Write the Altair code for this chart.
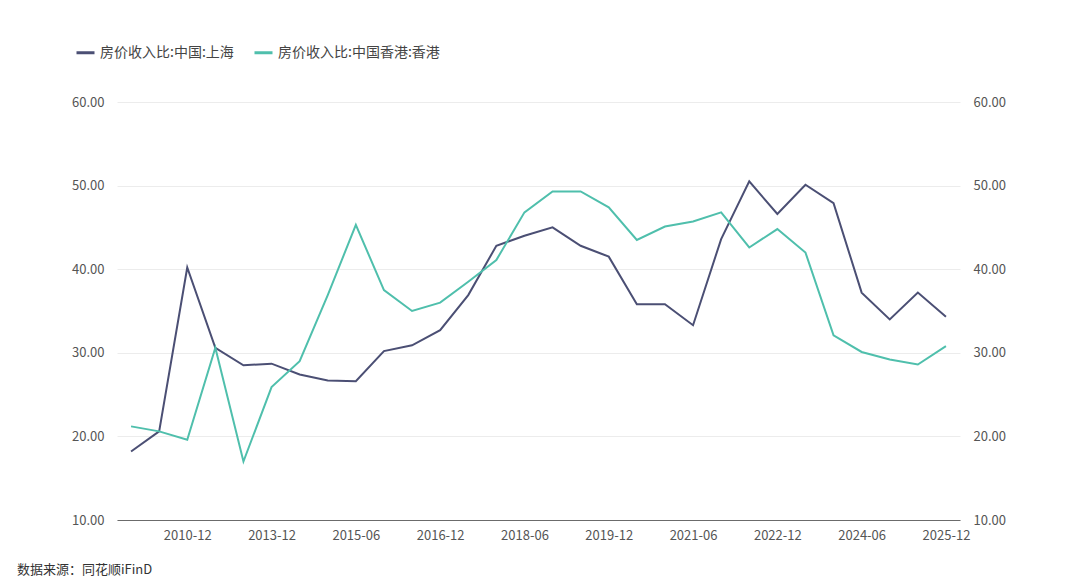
import altair as alt
import pandas as pd

periods = ["2008-12", "2009-12", "2010-12", "2011-12", "2012-12", "2013-12",
           "2014-06", "2014-12", "2015-06", "2015-12", "2016-06", "2016-12",
           "2017-06", "2017-12", "2018-06", "2018-12", "2019-06", "2019-12",
           "2020-06", "2020-12", "2021-06", "2021-12", "2022-06", "2022-12",
           "2023-06", "2023-12", "2024-06", "2024-12", "2025-06", "2025-12"]
shanghai = [18.2, 20.6, 40.2, 30.6, 28.5, 28.7, 27.4, 26.7, 26.6, 30.2,
            30.9, 32.7, 36.9, 42.8, 44.0, 45.0, 42.8, 41.5, 35.8, 35.8,
            33.3, 43.6, 50.5, 46.6, 50.1, 47.9, 37.2, 34.0, 37.2, 34.3]
hongkong = [21.2, 20.6, 19.6, 30.6, 17.0, 25.9, 29.0, 36.9, 45.3, 37.5,
            35.0, 36.0, 38.5, 41.1, 46.8, 49.3, 49.3, 47.4, 43.5, 45.1,
            45.7, 46.8, 42.6, 44.8, 42.0, 32.1, 30.1, 29.2, 28.6, 30.8]
tick_labels = ["2010-12", "2013-12", "2015-06", "2016-12", "2018-06",
               "2019-12", "2021-06", "2022-12", "2024-06", "2025-12"]
y_ticks = [10, 20, 30, 40, 50, 60]
series_sh = "房价收入比:中国:上海"
series_hk = "房价收入比:中国香港:香港"
footer = "数据来源：同花顺iFinD"

df = pd.DataFrame({
    "period": periods * 2,
    "value": shanghai + hongkong,
    "series": [series_sh] * len(periods) + [series_hk] * len(periods),
})

FONT = "Noto Sans CJK SC"
W, H = 843, 418

x_enc = alt.X(
    "period:O", sort=periods,
    scale=alt.Scale(type="point", padding=0.5),
    axis=alt.Axis(values=tick_labels, title=None, labelAngle=0, ticks=False,
                  domainColor="#6b6b6b", labelColor="#555555", labelFontSize=13,
                  labelFont=FONT, labelPadding=9, grid=False),
)
color_enc = alt.Color(
    "series:N",
    scale=alt.Scale(domain=[series_sh, series_hk], range=["#4b4f74", "#4fbfac"]),
    legend=alt.Legend(orient="none", legendX=-42, legendY=-60, direction="horizontal",
                      title=None, symbolType="stroke", symbolStrokeWidth=3,
                      symbolSize=324, labelFontSize=14, labelFont=FONT,
                      labelColor="#444444", columnPadding=14, labelOffset=4,
                      padding=0, labelLimit=300),
)
yscale = alt.Scale(domain=[10, 60], nice=False, zero=False)

left = alt.Chart(df).transform_filter(alt.datum.series == series_sh).mark_line(strokeWidth=2).encode(
    x=x_enc,
    y=alt.Y("value:Q", scale=yscale,
            axis=alt.Axis(orient="left", values=y_ticks, format=".2f", title=None,
                          domain=False, ticks=False, gridColor="#ececec",
                          labelColor="#555555", labelFontSize=13, labelFont=FONT,
                          labelPadding=13)),
    color=color_enc,
)
right = alt.Chart(df).transform_filter(alt.datum.series == series_hk).mark_line(strokeWidth=2).encode(
    x=x_enc,
    y=alt.Y("value:Q", scale=yscale,
            axis=alt.Axis(orient="right", values=y_ticks, format=".2f", title=None,
                          domain=False, ticks=False, grid=False,
                          labelColor="#555555", labelFontSize=13, labelFont=FONT,
                          labelPadding=13)),
    color=color_enc,
)
foot = alt.Chart(pd.DataFrame({"t": [footer]})).mark_text(
    align="left", baseline="middle", fontSize=13, font=FONT, color="#333333"
).encode(x=alt.value(-100), y=alt.value(468), text="t:N")

chart = alt.layer(left, right, foot).resolve_scale(y="independent").properties(
    width=W, height=H,
    autosize=alt.AutoSizeParams(type="none"),
    padding={"left": 109, "top": 94, "right": 109, "bottom": 58},
    background="white",
).configure_view(stroke=None)

chart.save("out.html", embed_options={"renderer": "svg", "actions": False})
